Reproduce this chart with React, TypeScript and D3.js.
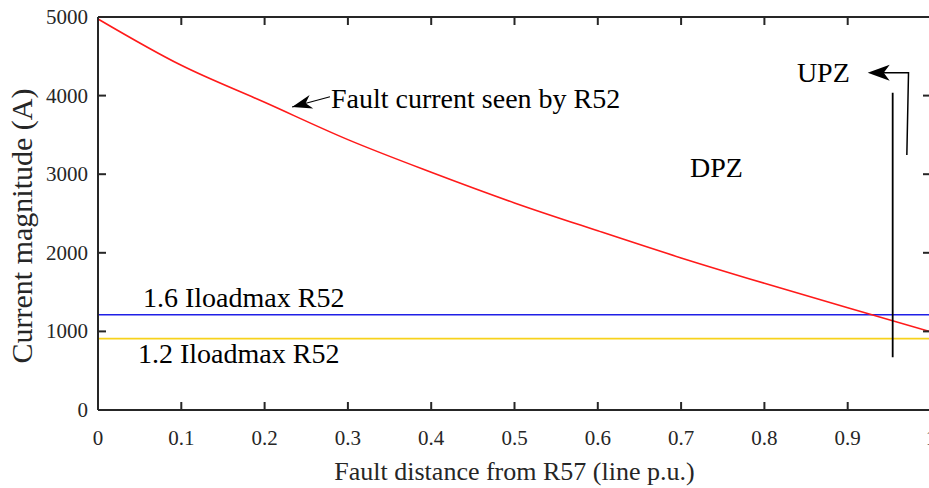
import React from "react";
import * as d3 from "d3";

const distance = [0, 0.1, 0.2, 0.3, 0.4, 0.5, 0.6, 0.7, 0.8, 0.9, 1.0];
const faultCurrent = [4975, 4385, 3915, 3440, 3025, 2635, 2280, 1935, 1612, 1300, 995];
const thresholdValues = [1211, 908];
const thresholdLabels = ["1.6 Iloadmax R52", "1.2 Iloadmax R52"];
const xTicks = [0, 0.1, 0.2, 0.3, 0.4, 0.5, 0.6, 0.7, 0.8, 0.9, 1];
const yTicks = [0, 1000, 2000, 3000, 4000, 5000];

const W = 929;
const H = 488;
const L = 98, R = 931, T = 17, B = 410;
const AX = "#262626";
const FONT = "Liberation Serif, Times New Roman, DejaVu Serif, serif";

function arrowHead(x1: number, y1: number, x2: number, y2: number, len = 20, half = 7, notch = 6) {
  const a = Math.atan2(y2 - y1, x2 - x1);
  const ux = Math.cos(a), uy = Math.sin(a);
  const px = -uy, py = ux;
  const bx = x2 - ux * len, by = y2 - uy * len;
  const nx = x2 - ux * (len - notch), ny = y2 - uy * (len - notch);
  return `M${x2},${y2} L${bx + px * half},${by + py * half} L${nx},${ny} L${bx - px * half},${by - py * half} Z`;
}

export default function App() {
  const x = d3.scaleLinear().domain([0, 1]).range([L, R]);
  const y = d3.scaleLinear().domain([0, 5000]).range([B, T]);
  const line = d3
    .line<number>()
    .x((_, i) => x(distance[i]))
    .y((d) => y(d))
    .curve(d3.curveMonotoneX);
  const curvePath = line(faultCurrent) || "";
  const fmt = (v: number) => (v === 0 || v === 1 ? String(v) : v.toFixed(1));

  const faTail = [x(0.2785), y(3985)];
  const faTip = [x(0.233), y(3855)];
  const upzTip = [x(0.924), y(4290)];
  const upzCorner = [x(0.973), y(4290)];
  const upzBottom = [x(0.971), y(3245)];
  const vLineX = x(0.954);
  const ts = { fontFamily: FONT };

  return (
    <svg width={W} height={H} style={{ position: "absolute", left: 0, top: 0, background: "#fff", fontFamily: FONT }}>
      <rect x={0} y={0} width={W} height={H} fill="#fff" />
      <line x1={L} x2={R} y1={y(thresholdValues[0])} y2={y(thresholdValues[0])} stroke="#1f1fe6" strokeWidth={1.6} />
      <line x1={L} x2={R} y1={y(thresholdValues[1])} y2={y(thresholdValues[1])} stroke="#f7d21c" strokeWidth={1.8} />
      <path d={curvePath} fill="none" stroke="#ff1a1a" strokeWidth={1.6} />

      <g stroke={AX} strokeWidth={2} fill="none">
        <line x1={L} x2={R} y1={B} y2={B} />
        <line x1={L} x2={R} y1={T} y2={T} />
        <line x1={L} x2={L} y1={T} y2={B} />
        <line x1={R} x2={R} y1={T} y2={B} />
        {xTicks.map((t) => (
          <g key={"xt" + t}>
            <line x1={x(t)} x2={x(t)} y1={B} y2={B - 8} />
            <line x1={x(t)} x2={x(t)} y1={T} y2={T + 8} />
          </g>
        ))}
        {yTicks.map((t) => (
          <g key={"yt" + t}>
            <line x1={L} x2={L + 8} y1={y(t)} y2={y(t)} />
            <line x1={R} x2={R - 8} y1={y(t)} y2={y(t)} />
          </g>
        ))}
      </g>
      {xTicks.map((t) => (
        <text key={"xl" + t} x={x(t)} y={B + 35} textAnchor="middle" fontSize={21} fill={AX} style={ts}>
          {fmt(t)}
        </text>
      ))}
      {yTicks.map((t) => (
        <text key={"yl" + t} x={L - 10} y={y(t) + 7} textAnchor="end" fontSize={21} fill={AX} style={ts}>
          {t}
        </text>
      ))}
      <text x={(L + R) / 2} y={480} textAnchor="middle" fontSize={26} fill={AX} style={ts}>
        Fault distance from R57 (line p.u.)
      </text>
      <text transform={`translate(32,226) rotate(-90)`} textAnchor="middle" fontSize={30} fill={AX} style={ts}>
        Current magnitude (A)
      </text>

      <text x={x(0.054)} y={y(1310)} fontSize={28} fill="#000" style={ts}>{thresholdLabels[0]}</text>
      <text x={x(0.048)} y={y(598)} fontSize={28} fill="#000" style={ts}>{thresholdLabels[1]}</text>
      <text x={x(0.2797)} y={y(3842)} fontSize={28} fill="#000" style={ts}>Fault current seen by R52</text>
      <text x={x(0.7107)} y={y(2964)} fontSize={28} fill="#000" style={ts}>DPZ</text>
      <text x={x(0.839)} y={y(4173)} fontSize={28} fill="#000" style={ts}>UPZ</text>

      <line x1={faTail[0]} y1={faTail[1]} x2={faTip[0]} y2={faTip[1]} stroke="#000" strokeWidth={1.2} />
      <path d={arrowHead(faTail[0], faTail[1], faTip[0], faTip[1], 20, 7, 6)} fill="#000" />

      <polyline
        points={`${upzBottom[0]},${upzBottom[1]} ${upzCorner[0]},${upzCorner[1]} ${upzTip[0] + 10},${upzTip[1]}`}
        fill="none"
        stroke="#000"
        strokeWidth={1.5}
      />
      <path d={arrowHead(upzCorner[0], upzCorner[1], upzTip[0], upzTip[1], 22, 8, 6)} fill="#000" />
      <line x1={vLineX} x2={vLineX} y1={y(4035)} y2={y(672)} stroke="#000" strokeWidth={1.8} />
    </svg>
  );
}
